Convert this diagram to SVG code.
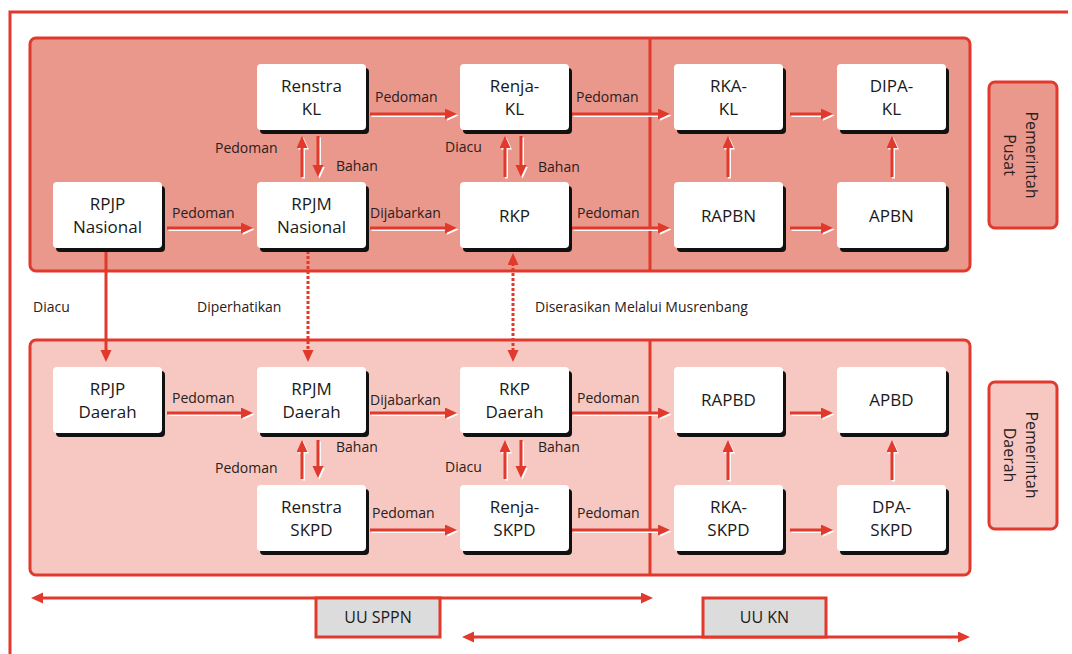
<svg xmlns="http://www.w3.org/2000/svg" xmlns:xlink="http://www.w3.org/1999/xlink" width="1072" height="654" viewBox="0 0 1072 654">
<style>
.frame{fill:none;stroke:#e2392d;stroke-width:3}
.pt{fill:#ea978c;stroke:#e2392d;stroke-width:3}
.pb{fill:#f6c8c1;stroke:#e2392d;stroke-width:3}
.div{stroke:#e2392d;stroke-width:3}
.sh{fill:#111}
.box{fill:#fff}
.nt{font-family:"Open Sans","Noto Sans",sans-serif;font-size:17px;font-weight:500;fill:#1a1a1a;text-anchor:middle}
.lb{font-family:"Open Sans","Noto Sans",sans-serif;font-size:14px;font-weight:500;fill:#2a2020}
.side{font-family:"Open Sans","Noto Sans",sans-serif;font-size:16px;font-weight:500;fill:#2a2020;text-anchor:middle}
.hl{fill:none;stroke:#fff;stroke-width:3;marker-end:url(#hw)}
.ar{fill:none;stroke:#e2392d;stroke-width:3;marker-end:url(#hr)}
.dot{fill:none;stroke:#e2392d;stroke-width:3;stroke-dasharray:3 2;marker-end:url(#hr)}
.uu{fill:#dcdcdc;stroke:#e2392d;stroke-width:3}
.ut{font-family:"Open Sans","Noto Sans",sans-serif;font-size:16px;font-weight:500;fill:#1a1a1a;text-anchor:middle}
</style>
<defs>
<marker id="hr" markerUnits="userSpaceOnUse" markerWidth="13" markerHeight="12" refX="2" refY="5.5" orient="auto-start-reverse"><path d="M0,0 L12,5.5 L0,11 Z" fill="#e2392d"/></marker>
<marker id="hw" markerUnits="userSpaceOnUse" markerWidth="13" markerHeight="12" refX="2" refY="5.5" orient="auto-start-reverse"><path d="M0,0 L12,5.5 L0,11 Z" fill="#fff"/></marker>
<path id="a1" d="M370,114 H447"/>
<path id="a2" d="M572,114 H660"/>
<path id="a3" d="M790,114 H823"/>
<path id="a4" d="M167,228 H243"/>
<path id="a5" d="M370,228 H447"/>
<path id="a6" d="M572,228 H660"/>
<path id="a7" d="M790,228 H823"/>
<path id="a8" d="M167,413 H243"/>
<path id="a9" d="M370,413 H447"/>
<path id="a10" d="M572,413 H660"/>
<path id="a11" d="M790,413 H823"/>
<path id="a12" d="M370,530 H447"/>
<path id="a13" d="M572,530 H660"/>
<path id="a14" d="M790,530 H823"/>
<path id="v1" d="M302,177 V146"/>
<path id="v2" d="M318,136 V167"/>
<path id="v3" d="M505,177 V146"/>
<path id="v4" d="M521,136 V167"/>
<path id="v5" d="M728,177 V146"/>
<path id="v6" d="M892,177 V146"/>
<path id="v7" d="M302,479 V450"/>
<path id="v8" d="M318,440 V468"/>
<path id="v9" d="M505,479 V450"/>
<path id="v10" d="M521,440 V468"/>
<path id="v11" d="M728,480 V450"/>
<path id="v12" d="M892,480 V450"/>
</defs>

<g id="frame">
<path class="frame" d="M10,654 V12 H1068"/>
</g>

<g id="panel-pusat">
<rect class="pt" x="30" y="38" width="940" height="233" rx="6"/>
<line class="div" x1="650" y1="38" x2="650" y2="271"/>
</g>
<g id="panel-daerah">
<rect class="pb" x="30" y="340" width="940" height="235" rx="6"/>
<line class="div" x1="650" y1="340" x2="650" y2="575"/>
</g>

<g id="label-pusat">
<rect class="pt" x="989" y="82" width="68" height="146" rx="6"/>
<text class="side" transform="translate(1026,155) rotate(90)">Pemerintah</text>
<text class="side" transform="translate(1004,155) rotate(90)">Pusat</text>
</g>
<g id="label-daerah">
<rect class="pb" x="989" y="382" width="68" height="147" rx="6"/>
<text class="side" transform="translate(1026,455) rotate(90)">Pemerintah</text>
<text class="side" transform="translate(1004,455) rotate(90)">Daerah</text>
</g>

<g id="connectors">
<g transform="translate(1.5,1.5)">
<use class="hl" xlink:href="#a1"/><use class="hl" xlink:href="#a2"/><use class="hl" xlink:href="#a3"/><use class="hl" xlink:href="#a4"/><use class="hl" xlink:href="#a5"/><use class="hl" xlink:href="#a6"/><use class="hl" xlink:href="#a7"/><use class="hl" xlink:href="#a8"/><use class="hl" xlink:href="#a9"/><use class="hl" xlink:href="#a10"/><use class="hl" xlink:href="#a11"/><use class="hl" xlink:href="#a12"/><use class="hl" xlink:href="#a13"/><use class="hl" xlink:href="#a14"/>
<use class="hl" xlink:href="#v1"/><use class="hl" xlink:href="#v2"/><use class="hl" xlink:href="#v3"/><use class="hl" xlink:href="#v4"/><use class="hl" xlink:href="#v5"/><use class="hl" xlink:href="#v6"/><use class="hl" xlink:href="#v7"/><use class="hl" xlink:href="#v8"/><use class="hl" xlink:href="#v9"/><use class="hl" xlink:href="#v10"/><use class="hl" xlink:href="#v11"/><use class="hl" xlink:href="#v12"/>
</g>
<g>
<use class="ar" xlink:href="#a1"/><use class="ar" xlink:href="#a2"/><use class="ar" xlink:href="#a3"/><use class="ar" xlink:href="#a4"/><use class="ar" xlink:href="#a5"/><use class="ar" xlink:href="#a6"/><use class="ar" xlink:href="#a7"/><use class="ar" xlink:href="#a8"/><use class="ar" xlink:href="#a9"/><use class="ar" xlink:href="#a10"/><use class="ar" xlink:href="#a11"/><use class="ar" xlink:href="#a12"/><use class="ar" xlink:href="#a13"/><use class="ar" xlink:href="#a14"/>
<use class="ar" xlink:href="#v1"/><use class="ar" xlink:href="#v2"/><use class="ar" xlink:href="#v3"/><use class="ar" xlink:href="#v4"/><use class="ar" xlink:href="#v5"/><use class="ar" xlink:href="#v6"/><use class="ar" xlink:href="#v7"/><use class="ar" xlink:href="#v8"/><use class="ar" xlink:href="#v9"/><use class="ar" xlink:href="#v10"/><use class="ar" xlink:href="#v11"/><use class="ar" xlink:href="#v12"/>
</g>
<path class="ar" d="M106,248 V352"/>
<path class="dot" d="M308,251 V352"/>
<path class="dot" d="M513,263 V352" marker-start="url(#hr)"/>
<path class="ar" d="M41,598 H643" marker-start="url(#hr)"/>
<path class="ar" d="M472,637 H960" marker-start="url(#hr)"/>

<text class="lb" x="375" y="102">Pedoman</text>
<text class="lb" x="576" y="102">Pedoman</text>
<text class="lb" x="172" y="218">Pedoman</text>
<text class="lb" x="370" y="218">Dijabarkan</text>
<text class="lb" x="577" y="218">Pedoman</text>
<text class="lb" x="215" y="153">Pedoman</text>
<text class="lb" x="336" y="171">Bahan</text>
<text class="lb" x="445" y="152">Diacu</text>
<text class="lb" x="538" y="172">Bahan</text>
<text class="lb" x="33" y="312">Diacu</text>
<text class="lb" x="197" y="312">Diperhatikan</text>
<text class="lb" x="535" y="312">Diserasikan Melalui Musrenbang</text>
<text class="lb" x="172" y="403">Pedoman</text>
<text class="lb" x="370" y="405">Dijabarkan</text>
<text class="lb" x="577" y="403">Pedoman</text>
<text class="lb" x="336" y="452">Bahan</text>
<text class="lb" x="215" y="473">Pedoman</text>
<text class="lb" x="538" y="452">Bahan</text>
<text class="lb" x="445" y="472">Diacu</text>
<text class="lb" x="372" y="518">Pedoman</text>
<text class="lb" x="577" y="518">Pedoman</text>
</g>

<g id="n-renstra-kl"><rect class="sh" x="260" y="68" width="109" height="66" rx="4"/><rect class="box" x="257" y="64" width="109" height="66" rx="4"/><text class="nt" x="311.5" y="92">Renstra</text><text class="nt" x="311.5" y="115">KL</text></g>
<g id="n-renja-kl"><rect class="sh" x="463" y="68" width="109" height="66" rx="4"/><rect class="box" x="460" y="64" width="109" height="66" rx="4"/><text class="nt" x="514.5" y="92">Renja-</text><text class="nt" x="514.5" y="115">KL</text></g>
<g id="n-rka-kl"><rect class="sh" x="677" y="68" width="109" height="66" rx="4"/><rect class="box" x="674" y="64" width="109" height="66" rx="4"/><text class="nt" x="728.5" y="92">RKA-</text><text class="nt" x="728.5" y="115">KL</text></g>
<g id="n-dipa-kl"><rect class="sh" x="840" y="68" width="109" height="66" rx="4"/><rect class="box" x="837" y="64" width="109" height="66" rx="4"/><text class="nt" x="891.5" y="92">DIPA-</text><text class="nt" x="891.5" y="115">KL</text></g>

<g id="n-rpjp-nasional"><rect class="sh" x="56" y="186" width="109" height="66" rx="4"/><rect class="box" x="53" y="182" width="109" height="66" rx="4"/><text class="nt" x="107.5" y="210">RPJP</text><text class="nt" x="107.5" y="233">Nasional</text></g>
<g id="n-rpjm-nasional"><rect class="sh" x="260" y="186" width="109" height="66" rx="4"/><rect class="box" x="257" y="182" width="109" height="66" rx="4"/><text class="nt" x="311.5" y="210">RPJM</text><text class="nt" x="311.5" y="233">Nasional</text></g>
<g id="n-rkp"><rect class="sh" x="463" y="186" width="109" height="66" rx="4"/><rect class="box" x="460" y="182" width="109" height="66" rx="4"/><text class="nt" x="514.5" y="222">RKP</text></g>
<g id="n-rapbn"><rect class="sh" x="677" y="186" width="109" height="66" rx="4"/><rect class="box" x="674" y="182" width="109" height="66" rx="4"/><text class="nt" x="728.5" y="222">RAPBN</text></g>
<g id="n-apbn"><rect class="sh" x="840" y="186" width="109" height="66" rx="4"/><rect class="box" x="837" y="182" width="109" height="66" rx="4"/><text class="nt" x="891.5" y="222">APBN</text></g>

<g id="n-rpjp-daerah"><rect class="sh" x="56" y="371" width="109" height="66" rx="4"/><rect class="box" x="53" y="367" width="109" height="66" rx="4"/><text class="nt" x="107.5" y="395">RPJP</text><text class="nt" x="107.5" y="418">Daerah</text></g>
<g id="n-rpjm-daerah"><rect class="sh" x="260" y="371" width="109" height="66" rx="4"/><rect class="box" x="257" y="367" width="109" height="66" rx="4"/><text class="nt" x="311.5" y="395">RPJM</text><text class="nt" x="311.5" y="418">Daerah</text></g>
<g id="n-rkp-daerah"><rect class="sh" x="463" y="371" width="109" height="66" rx="4"/><rect class="box" x="460" y="367" width="109" height="66" rx="4"/><text class="nt" x="514.5" y="395">RKP</text><text class="nt" x="514.5" y="418">Daerah</text></g>
<g id="n-rapbd"><rect class="sh" x="677" y="371" width="109" height="66" rx="4"/><rect class="box" x="674" y="367" width="109" height="66" rx="4"/><text class="nt" x="728.5" y="406">RAPBD</text></g>
<g id="n-apbd"><rect class="sh" x="840" y="371" width="109" height="66" rx="4"/><rect class="box" x="837" y="367" width="109" height="66" rx="4"/><text class="nt" x="891.5" y="406">APBD</text></g>

<g id="n-renstra-skpd"><rect class="sh" x="260" y="489" width="109" height="66" rx="4"/><rect class="box" x="257" y="485" width="109" height="66" rx="4"/><text class="nt" x="311.5" y="513">Renstra</text><text class="nt" x="311.5" y="536">SKPD</text></g>
<g id="n-renja-skpd"><rect class="sh" x="463" y="489" width="109" height="66" rx="4"/><rect class="box" x="460" y="485" width="109" height="66" rx="4"/><text class="nt" x="514.5" y="513">Renja-</text><text class="nt" x="514.5" y="536">SKPD</text></g>
<g id="n-rka-skpd"><rect class="sh" x="677" y="489" width="109" height="66" rx="4"/><rect class="box" x="674" y="485" width="109" height="66" rx="4"/><text class="nt" x="728.5" y="513">RKA-</text><text class="nt" x="728.5" y="536">SKPD</text></g>
<g id="n-dpa-skpd"><rect class="sh" x="840" y="489" width="109" height="66" rx="4"/><rect class="box" x="837" y="485" width="109" height="66" rx="4"/><text class="nt" x="891.5" y="513">DPA-</text><text class="nt" x="891.5" y="536">SKPD</text></g>

<g id="uu-sppn"><rect class="uu" x="316" y="598" width="124" height="39"/><text class="ut" x="378" y="623">UU SPPN</text></g>
<g id="uu-kn"><rect class="uu" x="703" y="598" width="123" height="39"/><text class="ut" x="764.5" y="623">UU KN</text></g>
</svg>
